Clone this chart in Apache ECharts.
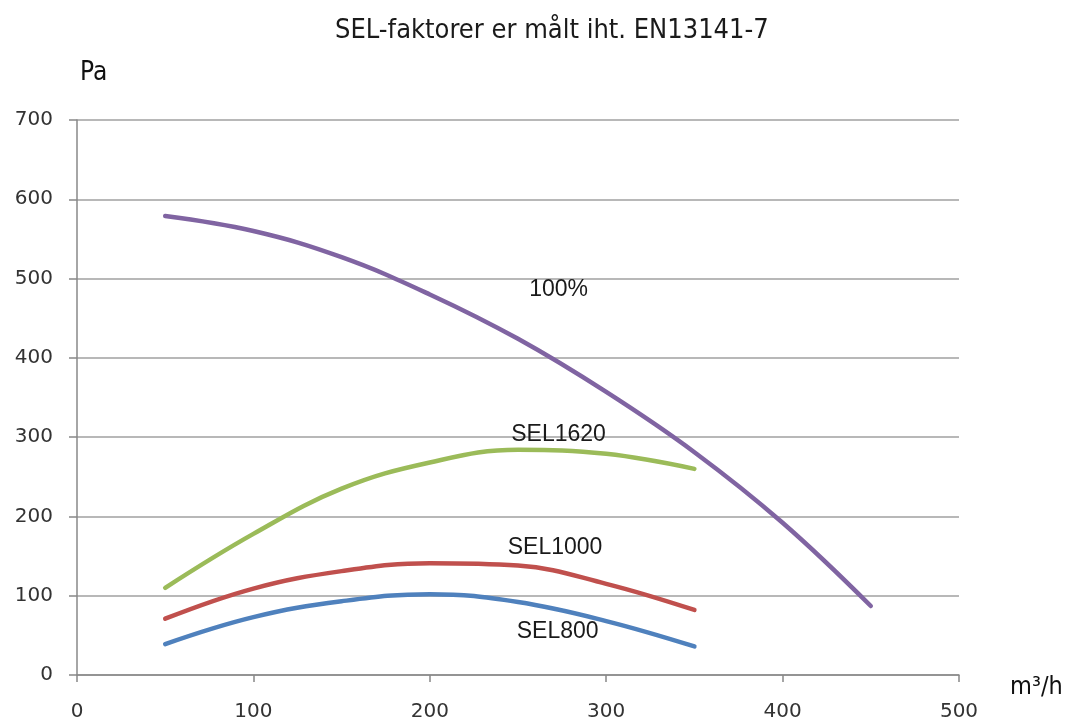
<!DOCTYPE html>
<html>
<head>
<meta charset="utf-8">
<script src="https://cdn.jsdelivr.net/npm/echarts@6/dist/echarts.min.js"></script>
<style>
html,body{margin:0;padding:0;background:#fff;}
#chart{width:1071px;height:722px;}
</style>
</head>
<body>
<div id="chart"></div>
<script>
// ---- data ----
const titleText = 'SEL-faktorer er målt iht. EN13141-7';
const yUnit = 'Pa';
const xUnit = 'm³/h';
const seriesNames = ['100%', 'SEL1620', 'SEL1000', 'SEL800'];
const purple100 = [[50,579],[100,560],[150,527],[200,480],[250,424],[300,357],[350,281],[400,192],[450,87]];
const sel1620 = [[50,110],[100,178],[150,235],[200,268],[250,284],[300,279],[350,260]];
const sel1000 = [[50,71],[100,109],[150,131],[200,141],[250,138],[300,115],[350,82]];
const sel800 = [[50,39],[100,73],[150,93],[200,102],[250,92],[300,68],[350,36]];
const labelAt = [[273,486],[273,303],[271,160],[272.5,55]];
const xTicks = [0,100,200,300,400,500];
const yTicks = [0,100,200,300,400,500,600,700];

const colors = ['#8064A2','#9BBB59','#C0504D','#4F81BD'];
const allData = [purple100, sel1620, sel1000, sel800];

const chart = echarts.init(document.getElementById('chart'), null, {renderer:'canvas'});
const labelFont = {fontFamily:'Liberation Sans', fontSize:23, color:'#1a1a1a'};
const unitFont = '"DejaVu Sans Condensed", "DejaVu Sans"';

const series = allData.map((d,i)=>({
  name: seriesNames[i],
  type: 'line',
  data: d,
  smooth: 0.4,
  showSymbol: false,
  lineStyle: {color: colors[i], width: 4.5, cap:'round'},
  itemStyle: {color: colors[i]},
  z: 3 + (3-i),
  markPoint: {
    symbol: 'circle',
    symbolSize: 0,
    silent: true,
    data: [{coord: labelAt[i], value: seriesNames[i]}],
    label: Object.assign({show:true, position:'inside', formatter: seriesNames[i]}, labelFont)
  }
}));

chart.setOption({
  animation: false,
  backgroundColor: '#ffffff',
  grid: {left: 77, right: 112, top: 120, bottom: 46, containLabel: false},
  xAxis: {
    type: 'value', min: xTicks[0], max: xTicks[xTicks.length-1], interval: 100,
    axisLine: {show:true, lineStyle:{color:'#888888', width:1.5}},
    axisTick: {show:true, length:7, lineStyle:{color:'#888888', width:1.5}},
    splitLine: {show:false},
    axisLabel: {margin: 27, fontFamily:'DejaVu Sans', fontSize:20, color:'#333333'}
  },
  yAxis: {
    type: 'value', min: yTicks[0], max: yTicks[yTicks.length-1], interval: 100,
    axisLine: {show:true, lineStyle:{color:'#888888', width:1.5}},
    axisTick: {show:true, length:8, lineStyle:{color:'#888888', width:1.5}},
    splitLine: {show:true, lineStyle:{color:'#a0a0a0', width:1.5}},
    axisLabel: {margin: 24, fontFamily:'DejaVu Sans', fontSize:20, color:'#333333'}
  },
  graphic: [
    {type:'text', left: 335, top: 17, style:{text: titleText, font:'27px ' + unitFont, fill:'#1a1a1a'}},
    {type:'text', left: 80, top: 60, style:{text: yUnit, font:'26px ' + unitFont, fill:'#111111'}},
    {type:'text', left: 1010, top: 675, style:{text: xUnit, font:'25px ' + unitFont, fill:'#111111'}}
  ],
  series: series
});
</script>
</body>
</html>
